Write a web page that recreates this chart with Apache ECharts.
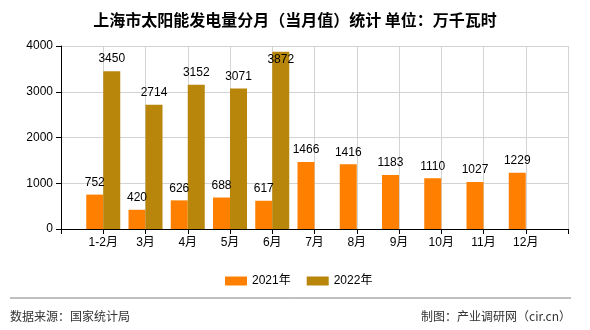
<!DOCTYPE html>
<html>
<head>
<meta charset="utf-8">
<script src="https://cdn.jsdelivr.net/npm/echarts@6/dist/echarts.min.js"></script>
<style>html,body{margin:0;padding:0;background:#fff}#c{width:590px;height:330px}</style>
</head>
<body>
<div id="c"></div>
<script>
var categories = ['1-2月','3月','4月','5月','6月','7月','8月','9月','10月','11月','12月'];
var values2021 = [752, 420, 626, 688, 617, 1466, 1416, 1183, 1110, 1027, 1229];
var values2022 = [3450, 2714, 3152, 3071, 3872];
var seriesNames = ['2021年', '2022年'];
var yTicks = [0, 1000, 2000, 3000, 4000];

var FONT = '"Liberation Sans","Noto Sans CJK SC",sans-serif';
var axisCats = [''].concat(categories).concat(['']);
function pad(arr) {
  var out = [null];
  for (var i = 0; i < categories.length; i++) {
    var v = i < arr.length ? arr[i] : null;
    if (v !== null && v > 3700) {
      out.push({ value: v, label: { offset: [0, 20] } });
    } else {
      out.push(v);
    }
  }
  out.push(null);
  return out;
}

var chart = echarts.init(document.getElementById('c'), null, { renderer: 'canvas' });
chart.setOption({
  animation: false,
  backgroundColor: '#fff',
  title: {
    text: '上海市太阳能发电量分月（当月值）统计 单位：万千瓦时',
    left: 'center',
    top: 7,
    textStyle: { fontSize: 16, fontWeight: 'bold', color: '#000', fontFamily: '"Noto Sans CJK SC",sans-serif' }
  },
  legend: {
    left: 220,
    top: 270,
    itemWidth: 22,
    itemHeight: 9,
    itemGap: 16,
    icon: 'rect',
    textStyle: { fontSize: 12, color: '#000', fontFamily: FONT },
    data: seriesNames
  },
  grid: { left: 61, right: 22, top: 46, bottom: 101, containLabel: false },
  xAxis: {
    type: 'category',
    data: axisCats,
    boundaryGap: false,
    axisLine: { lineStyle: { color: '#000', width: 1 } },
    axisTick: { show: true, length: 5, lineStyle: { color: '#000' } },
    axisLabel: { color: '#000', fontSize: 12, fontFamily: FONT, margin: 8, interval: 0 },
    splitLine: { show: true, lineStyle: { color: '#d3d3d3', width: 1 } }
  },
  yAxis: {
    type: 'value',
    min: yTicks[0],
    max: yTicks[yTicks.length - 1],
    interval: 1000,
    axisLine: { show: true, lineStyle: { color: '#000', width: 1 } },
    axisTick: { show: true, length: 5, lineStyle: { color: '#000' } },
    axisLabel: { color: '#000', fontSize: 12, fontFamily: FONT, margin: 8, formatter: function (v) { return String(v); } },
    splitLine: { show: true, lineStyle: { color: '#d3d3d3', width: 1 } }
  },
  series: [
    {
      name: seriesNames[0],
      type: 'bar',
      data: pad(values2021),
      barWidth: 17,
      barGap: '0%',
      itemStyle: { color: '#FF8000' },
      label: { show: true, position: 'top', distance: 6, color: '#000', fontSize: 12, fontFamily: FONT }
    },
    {
      name: seriesNames[1],
      type: 'bar',
      data: pad(values2022),
      barWidth: 17,
      barGap: '0%',
      itemStyle: { color: '#B8860B' },
      label: { show: true, position: 'top', distance: 6, color: '#000', fontSize: 12, fontFamily: FONT }
    }
  ],
  graphic: [
    { type: 'line', shape: { x1: 10, y1: 298, x2: 571, y2: 298 }, style: { stroke: '#808080', lineWidth: 1 } },
    { type: 'text', left: 10, top: 310, style: { text: '数据来源：国家统计局', fill: '#333', font: '12px "Noto Sans CJK SC",sans-serif' } },
    { type: 'text', right: 19, top: 310, style: { text: '制图：产业调研网（cir.cn）', fill: '#333', font: '12px "Noto Sans CJK SC",sans-serif' } }
  ]
});
</script>
</body>
</html>
